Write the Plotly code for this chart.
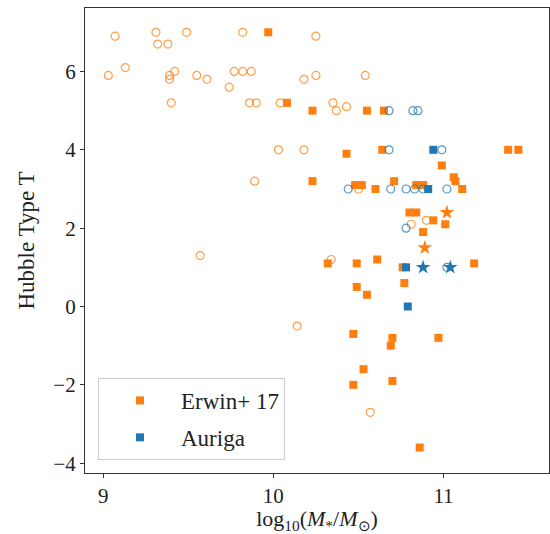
import plotly.graph_objects as go

ORANGE = "#ff7f0e"
BLUE = "#1f77b4"

# Erwin+17 sample
erwin_sq_x = [9.97, 10.08, 10.23, 10.55, 10.65, 10.43, 10.64, 11.38, 11.44, 10.23, 10.48, 10.52,
              10.60, 10.71, 10.84, 10.88, 10.99, 11.06, 11.07, 11.11, 10.80, 10.84, 10.94, 11.01,
              10.88, 10.32, 10.49, 10.61, 10.76, 11.18, 10.77, 10.49, 10.55, 10.47, 10.70, 10.69,
              10.97, 10.53, 10.47, 10.70, 10.86]
erwin_sq_y = [7.0, 5.2, 5.0, 5.0, 5.0, 3.9, 4.0, 4.0, 4.0, 3.2, 3.1, 3.1,
              3.0, 3.2, 3.1, 3.1, 3.6, 3.3, 3.2, 3.0, 2.4, 2.4, 2.2, 2.1,
              1.9, 1.1, 1.1, 1.2, 1.0, 1.1, 0.6, 0.5, 0.3, -0.7, -0.8, -1.0,
              -0.8, -1.6, -2.0, -1.9, -3.6]
erwin_ci_x = [9.07, 9.31, 9.32, 9.38, 9.49, 9.82, 10.25, 9.03, 9.13, 9.39, 9.42, 9.39, 9.55,
              9.61, 9.74, 9.77, 9.82, 9.87, 10.18, 10.25, 10.54, 9.40, 9.86, 9.90, 10.04,
              10.35, 10.37, 10.43, 10.03, 10.18, 9.89, 10.50, 10.81, 10.90, 10.34, 9.57,
              10.14, 10.57]
erwin_ci_y = [6.9, 7.0, 6.7, 6.7, 7.0, 7.0, 6.9, 5.9, 6.1, 5.9, 6.0, 5.8, 5.9,
              5.8, 5.6, 6.0, 6.0, 6.0, 5.8, 5.9, 5.9, 5.2, 5.2, 5.2, 5.2,
              5.2, 5.0, 5.1, 4.0, 4.0, 3.2, 3.0, 2.1, 2.2, 1.2, 1.3,
              -0.5, -2.7]
erwin_st_x = [11.02, 10.89]
erwin_st_y = [2.4, 1.5]

# Auriga sample
auriga_sq_x = [10.94, 10.91, 10.78, 10.79]
auriga_sq_y = [4.0, 3.0, 1.0, 0.0]
auriga_ci_x = [10.68, 10.82, 10.85, 10.68, 10.99, 10.44, 10.69, 10.78, 10.83, 10.88, 11.02,
               10.78, 11.02]
auriga_ci_y = [5.0, 5.0, 5.0, 4.0, 4.0, 3.0, 3.0, 3.0, 3.0, 3.0, 3.0,
               2.0, 1.0]
auriga_st_x = [10.88, 11.04]
auriga_st_y = [1.0, 1.0]

x_ticks = [9, 10, 11]
y_ticks = [-4, -2, 0, 2, 4, 6]

fig = go.Figure()

def add_set(name, color, sqx, sqy, cix, ciy, stx, sty, group):
    fig.add_trace(go.Scatter(x=cix, y=ciy, mode="markers", showlegend=False,
                             marker=dict(symbol="circle-open", size=8, color=color,
                                         line=dict(width=1.2, color=color), opacity=0.75)))
    fig.add_trace(go.Scatter(x=sqx, y=sqy, mode="markers", name=name, legendgroup=group,
                             marker=dict(symbol="square", size=8, color=color)))
    fig.add_trace(go.Scatter(x=stx, y=sty, mode="markers", showlegend=False,
                             marker=dict(symbol="star", size=11, color=color, line=dict(width=0))))

add_set("Erwin+ 17", ORANGE, erwin_sq_x, erwin_sq_y, erwin_ci_x, erwin_ci_y,
        erwin_st_x, erwin_st_y, "e")
add_set("Auriga", BLUE, auriga_sq_x, auriga_sq_y, auriga_ci_x, auriga_ci_y,
        auriga_st_x, auriga_st_y, "a")

FONT = "Liberation Serif"
axis_common = dict(showline=True, linecolor="#333333", linewidth=1.2, mirror=True,
                   ticks="outside", ticklen=4, tickcolor="#333333", showgrid=False,
                   zeroline=False, tickfont=dict(family=FONT, size=21, color="#222222"))

fig.update_xaxes(range=[8.893, 11.62], tickvals=x_ticks, ticktext=[str(v) for v in x_ticks],
                 title=dict(text="log<sub>10</sub>(<i>M</i><sub>*</sub>/<i>M</i><sub>⊙</sub>)",
                            font=dict(family=FONT, size=22, color="#222222"), standoff=0),
                 **axis_common)
fig.update_yaxes(range=[-4.25, 7.62], tickvals=y_ticks,
                 ticktext=[("−" + str(-v)) if v < 0 else str(v) for v in y_ticks],
                 title=dict(text="Hubble Type T", font=dict(family=FONT, size=23, color="#222222"),
                            standoff=12),
                 **axis_common)

fig.update_layout(
    width=550, height=534,
    margin=dict(l=85, r=1, t=8, b=61),
    plot_bgcolor="white", paper_bgcolor="white",
    legend=dict(x=0.028, y=0.028, xanchor="left", yanchor="bottom",
                bgcolor="rgba(255,255,255,0.8)", bordercolor="#cccccc", borderwidth=1,
                font=dict(family=FONT, size=23, color="#222222"),
                tracegroupgap=4, itemwidth=72),
)

fig.write_html("out.html")
